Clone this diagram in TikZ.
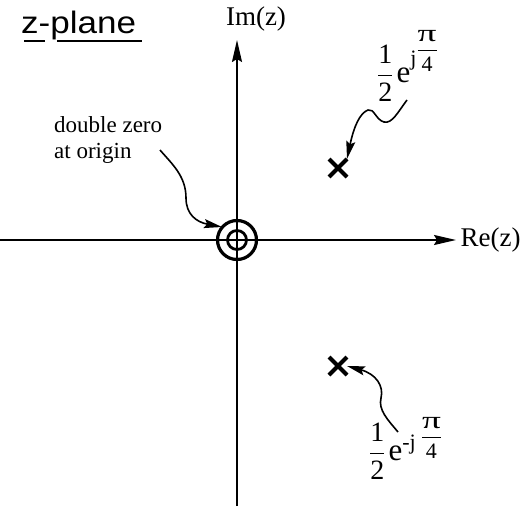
\RequirePackage{fix-cm}
\documentclass[tikz,border=0pt]{standalone}
\usepackage{amsmath}
\usepackage{fontspec}
\setmainfont{Liberation Serif}
\newfontfamily\planefont{Liberation Sans}
\usetikzlibrary{positioning,arrows.meta,shapes.misc}

% 1/2 e^{j pi/4}, set piece by piece: #1 raise of j, #2 raise of pi/4, #3 the j
\newcommand{\polelabel}[3]{%
  {\fontsize{28}{30}\selectfont$\displaystyle\frac{\mbox{1}}{\mbox{2}}$}%
  \hspace{3pt}{\fontsize{31}{33}\selectfont e}%
  \raisebox{#1}{\fontsize{22}{24}\selectfont #3}%
  \raisebox{#2}{\fontsize{22}{24}\selectfont
    $\displaystyle\frac{\mbox{\scalebox{1.7}[1.1]{π}}}{\mbox{4}}$}}

\tikzset{
  axis/.style={line width=1.8pt,-{Stealth[length=22pt,width=10pt,inset=3pt]}},
  wiggle/.style={line width=1.6pt,-{Stealth[length=18pt,width=9pt,inset=3pt]}},
  pole/.style={cross out,draw,line width=4pt,minimum size=14pt,inner sep=0pt},
  lbl/.style={font=\fontsize{23}{26}\selectfont},
  axlbl/.style={font=\fontsize{27}{30}\selectfont},
  mathlbl/.style={inner sep=0pt,anchor=base west}
}

\begin{document}
\begin{tikzpicture}[x=1pt,y=-1pt]
  \useasboundingbox (0,0) rectangle (522,506);

  % axes
  \coordinate (origin) at (237,240);
  \coordinate (xleft) at (0,240);
  \coordinate (xright) at (456,240);
  \coordinate (ybot) at (237,506);
  \coordinate (ytop) at (237,40);
  \draw[axis] (xleft) -- (xright);
  \draw[axis] (ybot) -- (ytop);
  \node[axlbl,right=1pt of xright] (re) {Re(z)};
  \node[axlbl] (im) at (256,19) {Im(z)};

  % title
  \node[font=\fontsize{31}{34}\planefont,anchor=base west,inner sep=0pt] (title) at (21,33)
    {\scalebox{1.13}[1]{z-plane}};
  \draw[line width=1.5pt] (24,41) -- (45,41);
  \draw[line width=1.5pt] (57,41) -- (142,41);

  % double zero at the origin
  \draw[line width=3.2pt] (origin) circle (19.5);
  \draw[line width=2.8pt] (origin) circle (9.5);
  \node[lbl,anchor=north west,align=left,inner sep=0pt] (dz) at (54,116)
    {double zero\\at origin};
  \coordinate (dzstart) at (160,150);
  \draw[wiggle] (dzstart) .. controls (172,164) and (186,176) .. (186,198)
    .. controls (186,214) and (196,222) .. (222,227);

  % poles
  \node[pole] (p1) at (338,168) {};
  \node[pole] (p2) at (338,366) {};

  \node[mathlbl] (l1) at (377,82) {\polelabel{17pt}{26pt}{j}};
  \node[mathlbl] (l2) at (369,460) {\polelabel{11pt}{17pt}{-j\hspace{5pt}}};

  \coordinate (w1) at (407,100);
  \coordinate (w2) at (398,432);
  \draw[wiggle] (w1) .. controls (398,112) and (392,124) .. (384,122)
    .. controls (376,120) and (374,108) .. (368,110)
    .. controls (360,113) and (354,126) .. (p1.north east);
  \draw[wiggle] (w2) .. controls (388,420) and (378,410) .. (381,398)
    .. controls (384,386) and (376,374) .. (p2.east);
\end{tikzpicture}
\end{document}
